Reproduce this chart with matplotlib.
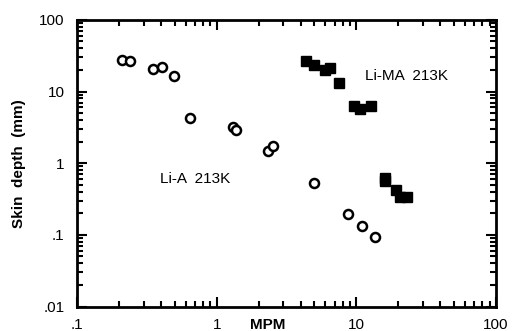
import numpy as np
import matplotlib.pyplot as plt
from matplotlib.ticker import LogLocator, FixedLocator, NullFormatter

plt.rcParams['font.family'] = ['Liberation Sans', 'DejaVu Sans']

# Li-A 213K (open circles)
lia_mpm = [0.209, 0.238, 0.353, 0.403, 0.497, 0.647, 1.31, 1.38, 2.33, 2.52,
           4.94, 8.77, 11.0, 13.6]
lia_depth = [27.5, 27.0, 20.6, 22.0, 16.5, 4.26, 3.18, 2.9, 1.47, 1.73,
             0.525, 0.194, 0.132, 0.092]

# Li-MA 213K (filled squares)
lima_mpm = [4.33, 5.02, 6.0, 6.53, 7.57, 9.68, 10.7, 12.8, 16.1, 16.1,
            19.3, 20.6, 23.1]
lima_depth = [26.7, 23.4, 20.0, 21.0, 13.1, 6.26, 5.69, 6.26, 0.617, 0.57,
              0.42, 0.334, 0.334]

x_ticks = [0.1, 1, 10, 100]
x_labels = [".1", "1", "10", "100"]
y_ticks = [0.01, 0.1, 1, 10, 100]
y_labels = [".01", ".1", "1", "10", "100"]

fig = plt.figure(figsize=(5.15, 3.31), dpi=100)
ax = fig.add_axes([0.1495, 0.074, 0.8135, 0.866])

ax.plot(lia_mpm, lia_depth, linestyle="none", marker="o", markersize=6.5,
        markerfacecolor="white", markeredgecolor="black", markeredgewidth=1.8)
ax.plot(lima_mpm, lima_depth, linestyle="none", marker="s", markersize=7,
        markerfacecolor="black", markeredgecolor="black")

ax.set_xscale("log")
ax.set_yscale("log")
ax.set_xlim(0.1, 100)
ax.set_ylim(0.01, 100)

ax.xaxis.set_major_locator(FixedLocator(x_ticks))
ax.set_xticklabels(x_labels)
ax.yaxis.set_major_locator(FixedLocator(y_ticks))
ax.set_yticklabels(y_labels)
ax.xaxis.set_minor_locator(LogLocator(base=10, subs=np.arange(2, 10)))
ax.yaxis.set_minor_locator(LogLocator(base=10, subs=np.arange(2, 10)))
ax.xaxis.set_minor_formatter(NullFormatter())
ax.yaxis.set_minor_formatter(NullFormatter())

ax.tick_params(which="both", direction="in", top=True, right=True,
               labelsize=11, width=1.5)
ax.tick_params(which="major", length=7)
ax.tick_params(axis="x", which="major", pad=8)
ax.tick_params(axis="y", which="major", pad=9)
ax.tick_params(which="minor", length=4)
for spine in ax.spines.values():
    spine.set_linewidth(2)

ax.set_ylabel("Skin  depth  (mm)", fontsize=11, fontweight="bold", labelpad=9)
fig.text(268 / 515, 1 - 325 / 331, "MPM", fontsize=11, fontweight="bold",
         ha="center", va="center")

ax.text(0.39, 0.6, "Li-A  213K", fontsize=11, va="center")
ax.text(11.6, 16.5, "Li-MA  213K", fontsize=11, va="center")

fig.savefig("out.png", dpi=100)
